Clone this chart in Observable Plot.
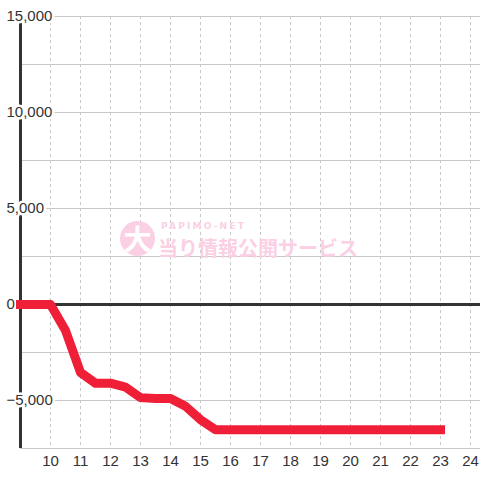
<!DOCTYPE html>
<html><head><meta charset="utf-8">
<script src="https://cdn.jsdelivr.net/npm/d3@7"></script>
<script src="https://cdn.jsdelivr.net/npm/@observablehq/plot@0.6"></script>
<style>
body{margin:0;background:#fff;}
#wrap{position:relative;width:480px;height:480px;overflow:hidden;}
#wrap svg{display:block;}
.wm{position:absolute;color:#fbcfe4;font-weight:bold;pointer-events:none;white-space:nowrap;}
.wm-circle{position:absolute;left:120px;top:221px;width:35px;height:35px;border-radius:50%;background:#fbcfe4;color:#fff;font:bold 28px "Noto Sans CJK JP";line-height:35px;text-align:center;}
.wm-small{left:161px;top:221px;font:bold 9px "DejaVu Sans";letter-spacing:2.2px;}
.wm-big{left:158px;top:233px;font:bold 20px "Noto Sans CJK JP";letter-spacing:0px;}
</style></head><body><div id="wrap"></div>
<script>
const hours  = [9, 9.5, 10, 10.5, 11, 11.5, 12, 12.5, 13, 13.5, 14, 14.5, 15, 15.5, 16, 16.5, 17, 17.5, 18, 18.5, 19, 19.5, 20, 20.5, 21, 21.5, 22, 22.5, 23];
const values = [0, 0, 0, -1350, -3540, -4100, -4100, -4300, -4850, -4900, -4900, -5300, -6000, -6520, -6520, -6520, -6520, -6520, -6520, -6520, -6520, -6520, -6520, -6520, -6520, -6520, -6520, -6520, -6520];
const xTicks = [10, 11, 12, 13, 14, 15, 16, 17, 18, 19, 20, 21, 22, 23, 24];
const yLabels = [15000, 10000, 5000, 0, -5000];
const yGrid = [15000, 12500, 10000, 7500, 5000, 2500, -2500, -5000, -7500];

const data = hours.map((h, i) => ({h, v: values[i]}));
const fmt = d3.format(",");

const chart = Plot.plot({
  width: 480,
  height: 480,
  marginLeft: 20,
  marginRight: 0,
  marginTop: 16,
  marginBottom: 32,
  style: {fontFamily: "'Liberation Sans', Arial, sans-serif", background: "transparent"},
  x: {domain: [9, 24 + 1/3], axis: null},
  y: {domain: [-7500, 15000], axis: null},
  marks: [
    Plot.ruleY(yGrid, {stroke: "#c8c8c8", strokeWidth: 1}),
    Plot.ruleX(xTicks, {stroke: "#c8c8c8", strokeWidth: 1, strokeDasharray: "3,3"}),
    Plot.ruleY([0], {stroke: "#333", strokeWidth: 3}),
    Plot.ruleX([9], {stroke: "#333", strokeWidth: 3}),
    Plot.text(yLabels, {y: d => d, frameAnchor: "left", text: d => fmt(d), textAnchor: "start", dx: -14, fill: "#333", stroke: "white", strokeWidth: 5, fontSize: 15}),
    Plot.text(xTicks, {x: d => d, frameAnchor: "bottom", text: d => String(d), lineAnchor: "middle", dy: 13, fill: "#333", fontSize: 15}),
    Plot.line(data, {x: "h", y: "v", stroke: "#ee1f36", strokeWidth: 9, strokeLinecap: "square", strokeLinejoin: "round"})
  ]
});
const wrap = document.getElementById("wrap");
wrap.appendChild(chart);
const c = document.createElement("div"); c.className = "wm-circle"; c.textContent = "大"; wrap.appendChild(c);
const s = document.createElement("div"); s.className = "wm wm-small"; s.textContent = "PAPIMO-NET"; wrap.appendChild(s);
const b = document.createElement("div"); b.className = "wm wm-big"; b.textContent = "当り情報公開サービス"; wrap.appendChild(b);
</script></body></html>
